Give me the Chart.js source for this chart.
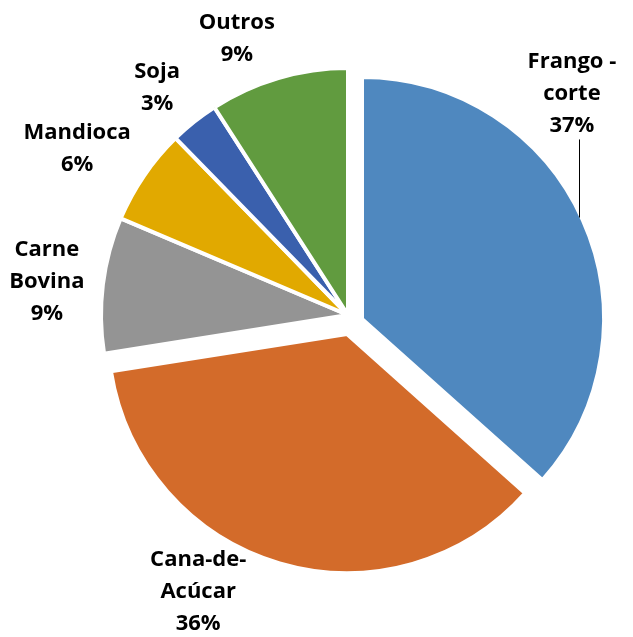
<!DOCTYPE html>
<html>
<head>
<meta charset="utf-8">
<script src="https://cdn.jsdelivr.net/npm/chart.js@4.4.1/dist/chart.umd.min.js"></script>
<style>
  html, body { margin: 0; padding: 0; background: #fff; }
  #wrap { width: 633px; height: 637px; position: relative; }
</style>
</head>
<body>
<div id="wrap"><canvas id="pieChart"></canvas></div>
<script>
// data (slice shares in %)
const categories = ['Frango -\ncorte', 'Cana-de-\nAcúcar', 'Carne\nBovina', 'Mandioca', 'Soja', 'Outros'];
const shares = [36.6, 35.9, 8.9, 6.3, 3.2, 9.1];
const sliceColors = ['#4f88bf', '#d36b2a', '#949494', '#e1a900', '#3a60ad', '#619b3f'];

// exploded slices: shift of the slice centre (px) and radius
const explodeDx = [14, -1, 0, 0, 0, 0];
const explodeDy = [4, 19, 0, 0, 0, 0];
const sliceRadius = [242, 239, 247, 247, 247, 247];

// label placement: angle (deg, clockwise from top) and distance from pie centre
const labelAngle = [45.3, 208.4, 276.3, 301.6, 320, 338.1];
const labelDist = [315, 315, 303, 318, 297, 298];

const explodePlugin = {
  id: 'explodeSlices',
  afterDatasetUpdate(chart, args) {
    args.meta.data.forEach((arc, i) => {
      arc.x += explodeDx[i];
      arc.y += explodeDy[i];
      arc.outerRadius = sliceRadius[i];
    });
  }
};

const labelPlugin = {
  id: 'sliceLabels',
  afterDatasetsDraw(chart) {
    const ctx = chart.ctx;
    const arcs = chart.getDatasetMeta(0).data;
    const total = shares.reduce((a, b) => a + b, 0);
    const cx = (chart.chartArea.left + chart.chartArea.right) / 2;
    const cy = (chart.chartArea.top + chart.chartArea.bottom) / 2;
    ctx.save();
    ctx.fillStyle = '#000';
    ctx.font = 'bold 22px "Open Sans", sans-serif';
    ctx.textAlign = 'center';
    ctx.textBaseline = 'middle';
    const lh = 32;
    categories.forEach((name, i) => {
      const lines = name.split('\n').concat(Math.round(shares[i] / total * 100) + '%');
      const a = labelAngle[i] * Math.PI / 180;
      const lx = cx + Math.sin(a) * labelDist[i];
      const ly = cy - Math.cos(a) * labelDist[i];
      const top = ly - (lines.length - 1) * lh / 2;
      lines.forEach((t, k) => ctx.fillText(t, lx, top + k * lh));

      if (i === 0) {
        // leader line from label down to the slice edge
        const arc = arcs[0];
        const x = Math.round(lx + 7) + 0.5;
        const r = arc.outerRadius - 2;
        const yEdge = arc.y - Math.sqrt(r * r - (x - arc.x) * (x - arc.x));
        ctx.strokeStyle = '#000';
        ctx.lineWidth = 1;
        ctx.beginPath();
        ctx.moveTo(x, top + (lines.length - 1) * lh + 14);
        ctx.lineTo(x, yEdge);
        ctx.stroke();
      }
    });
    ctx.restore();
  }
};

new Chart(document.getElementById('pieChart'), {
  type: 'pie',
  data: {
    labels: categories,
    datasets: [{
      data: shares,
      backgroundColor: sliceColors,
      borderColor: '#ffffff',
      borderWidth: 4
    }]
  },
  options: {
    responsive: true,
    maintainAspectRatio: false,
    animation: false,
    radius: 247,
    layout: { padding: { left: 63, right: 0, top: 0, bottom: 7 } },
    plugins: {
      legend: { display: false },
      tooltip: { enabled: false }
    }
  },
  plugins: [explodePlugin, labelPlugin]
});
</script>
</body>
</html>
